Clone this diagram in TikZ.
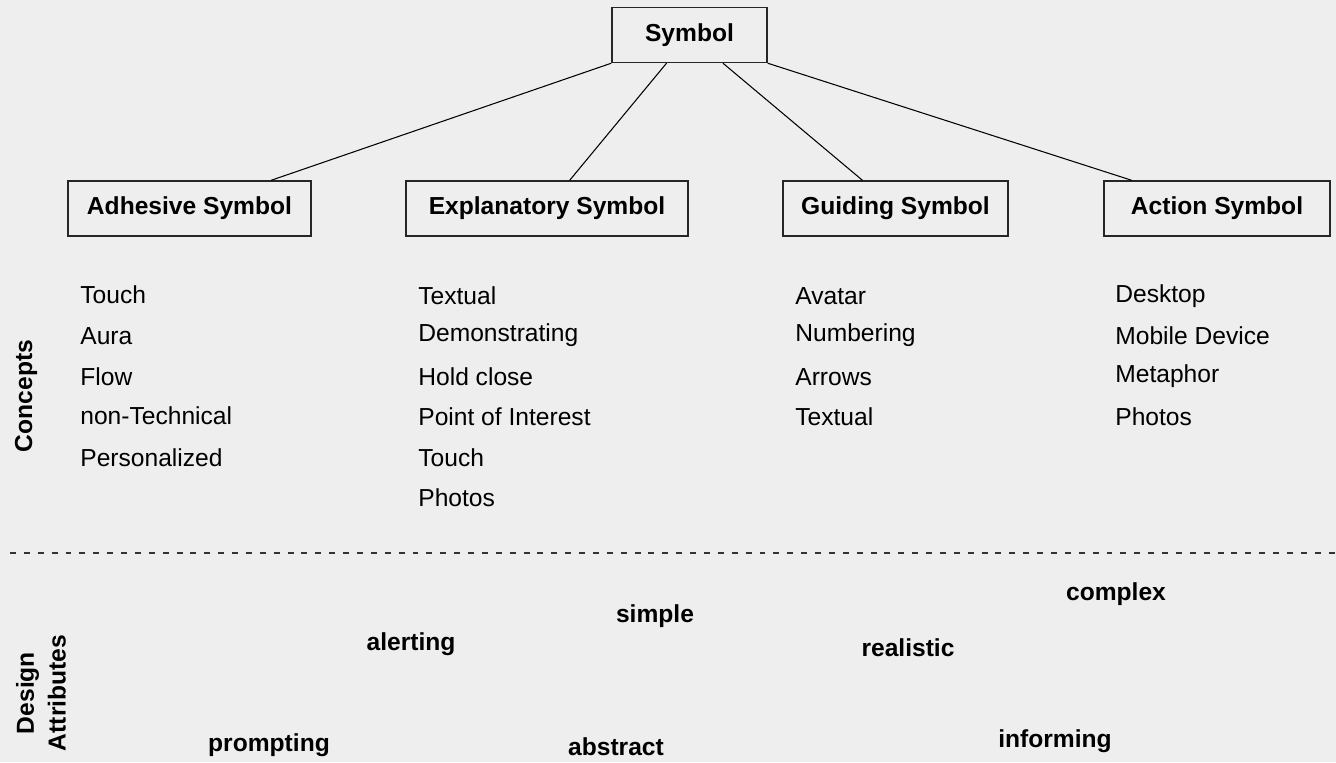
\documentclass[tikz,border=0pt]{standalone}
\usepackage{fontspec}
\setmainfont{Liberation Sans}
\usetikzlibrary{calc,positioning}
\definecolor{bgcol}{HTML}{EEEEEE}

\begin{document}
\begin{tikzpicture}[x=0.02cm,y=-0.02cm]
\tikzstyle{symbox}=[draw=black!85,line width=0.8pt,fill=bgcol,minimum height=1.1cm,inner sep=0pt,font=\fontsize{14}{17}\selectfont\bfseries]
\tikzstyle{concept}=[anchor=base west,inner sep=0pt,font=\fontsize{14}{17}\selectfont]
\tikzstyle{attr}=[anchor=base,inner sep=0pt,font=\fontsize{14}{17}\selectfont\bfseries]
\tikzstyle{side}=[rotate=90,inner sep=0pt,align=center,font=\fontsize{14}{18}\selectfont\bfseries]
\tikzstyle{branch}=[draw=black,line width=0.6pt]

\fill[bgcol] (0,0) rectangle (1336,762);
\useasboundingbox (0,0) rectangle (1336,762);

% tree of symbols
\node[symbox,minimum width=3.1cm] (sym) at (689.5,35) {Symbol};
\node[symbox,minimum width=4.86cm] (adh) at (189.5,208.5) {Adhesive Symbol};
\node[symbox,minimum width=5.64cm] (expl) at (547,208.5) {Explanatory Symbol};
\node[symbox,minimum width=4.5cm] (guid) at (895.5,208.5) {Guiding Symbol};
\node[symbox,minimum width=4.52cm] (act) at (1217,208.5) {Action Symbol};

\draw[branch] (sym.south west) -- ($(adh.north west)!0.834!(adh.north east)$);
\draw[branch] ($(sym.south west)!0.353!(sym.south east)$) -- ($(expl.north west)!0.58!(expl.north east)$);
\draw[branch] ($(sym.south west)!0.714!(sym.south east)$) -- ($(guid.north west)!0.354!(guid.north east)$);
\draw[branch] (sym.south east) -- ($(act.north west)!0.125!(act.north east)$);

% concepts
\foreach \txt/\y [count=\i] in {Touch/303,Aura/344,Flow/385,non-Technical/424,Personalized/466}
  \node[concept] (adh-\i) at (80,\y) {\txt};
\foreach \txt/\y [count=\i] in {Textual/304,Demonstrating/341,Hold close/385,Point of Interest/425,Touch/466,Photos/506}
  \node[concept] (expl-\i) at (418,\y) {\txt};
\foreach \txt/\y [count=\i] in {Avatar/304,Numbering/341,Arrows/385,Textual/425}
  \node[concept] (guid-\i) at (795,\y) {\txt};
\foreach \txt/\y [count=\i] in {Desktop/302,Mobile Device/344,Metaphor/382,Photos/425}
  \node[concept] (act-\i) at (1115,\y) {\txt};

\node[side] (concepts) at (26,396) {Concepts};

% divider
\coordinate (divl) at (10,553);
\coordinate (divr) at (1336,553);
\draw[black!80,line width=0.6pt,dash pattern=on 3.4pt off 4.5pt] (divl) -- (divr);

% design attributes
\node[side] (design) at (41,693) {Design\\Attributes};
\node[attr] (complex) at (1116,600) {complex};
\node[attr] (simple) at (655,622) {simple};
\node[attr] (alerting) at (411,650) {alerting};
\node[attr] (realistic) at (908,656) {realistic};
\node[attr] (prompting) at (269,751) {prompting};
\node[attr] (abstract) at (616,755) {abstract};
\node[attr] (informing) at (1055,747) {informing};
\end{tikzpicture}
\end{document}
